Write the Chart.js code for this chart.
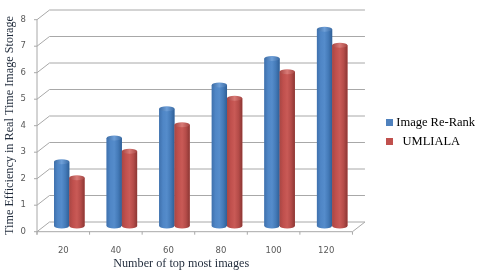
<!DOCTYPE html>
<html><head><meta charset="utf-8">
<style>html,body{margin:0;padding:0;background:#fff}#w{width:480px;height:275px}canvas{filter:blur(0.45px)}</style>
<script src="https://cdn.jsdelivr.net/npm/chart.js@4"></script></head>
<body><div id="w"><canvas id="c"></canvas></div>
<script>
const categories = ['20','40','60','80','100','120'];
const imageReRank = [2.5,3.4,4.5,5.4,6.4,7.5];
const umliala = [1.9,2.9,3.9,4.9,5.9,6.9];
const seriesNames = ['Image Re-Rank','UMLIALA'];
const legendPrefix = ['','  '];
const yMax = 8;
const titleX = 'Number of top most images';
const titleY = 'Time Efficiency in Real Time Image Storage';

const FRONT={dx:-6,dy:3.7}, BACK={dx:6.5,dy:-6};
const shades=[['#3f71ad','#4f86c6','#558ccb','#447ab8','#2f5f96'],['#a94744','#c0504d','#c95a56','#b54c49','#8c3734']];
const tops=[['#6e9fd8','#3c6ca4'],['#d97a76','#a54542']];

const scene={id:'scene',
 afterLayout(ch){
  const lg=ch.legend; lg.left=382.5; lg.right=480; lg.top-=11.5; lg.bottom-=11.5;
  const x=ch.scales.x,y=ch.scales.y;
  const dx=x.drawTitle, dy=y.drawTitle;
  x.drawTitle=function(){ch.ctx.save();ch.ctx.translate(-19.5,0);dx.apply(this,arguments);ch.ctx.restore();};
  y.drawTitle=function(){ch.ctx.save();ch.ctx.translate(0,3.5);dy.apply(this,arguments);ch.ctx.restore();};
 },
 beforeDatasetsDraw(ch){
  const g=ch.ctx,x=ch.scales.x,y=ch.scales.y,L=x.left,R=x.right;
  g.save();g.lineWidth=1;g.strokeStyle='#a8a8a8';
  const seg=(a,b,c,d)=>{g.beginPath();g.moveTo(a,b);g.lineTo(c,d);g.stroke();};
  for(let v=0;v<=yMax;v++){
   const p=y.getPixelForValue(v);
   seg(L+BACK.dx,p+BACK.dy,R+BACK.dx,p+BACK.dy);
   seg(L+FRONT.dx,p+FRONT.dy,L+BACK.dx,p+BACK.dy);
   seg(L+FRONT.dx-3,p+FRONT.dy,L+FRONT.dx,p+FRONT.dy);
  }
  const b=y.getPixelForValue(0),t=y.getPixelForValue(yMax);
  seg(L+FRONT.dx,t+FRONT.dy,L+FRONT.dx,b+FRONT.dy+3);
  seg(L+FRONT.dx,b+FRONT.dy,R+FRONT.dx,b+FRONT.dy);
  seg(R+FRONT.dx,b+FRONT.dy,R+BACK.dx,b+BACK.dy);
  const step=(R-L)/categories.length;
  for(let i=0;i<=categories.length;i++){const q=L+FRONT.dx+i*step;seg(q,b+FRONT.dy,q,b+FRONT.dy+3);}
  g.restore();
 },
 afterDatasetsDraw(ch){
  const g=ch.ctx;
  ch.data.datasets.forEach((d,di)=>{
   ch.getDatasetMeta(di).data.forEach(bar=>{
    const w=bar.width,l=bar.x-w/2,r=bar.x+w/2,ry=2.5,gr=g.createLinearGradient(l,0,r,0),base=bar.base-2;
    shades[di].forEach((c,i)=>gr.addColorStop(i/4,c));
    g.save();
    g.fillStyle='#fff';g.fillRect(l-0.5,base,w+1,2.6);
    g.fillStyle=gr;g.beginPath();
    g.moveTo(l,bar.y);g.lineTo(l,base);
    g.ellipse(bar.x,base,w/2,ry,0,Math.PI,0,true);
    g.lineTo(r,bar.y);g.closePath();g.fill();
    const tg=g.createLinearGradient(l,0,r,0);tg.addColorStop(0,tops[di][1]);tg.addColorStop(.5,tops[di][0]);tg.addColorStop(1,tops[di][1]);
    g.fillStyle=tg;g.beginPath();g.ellipse(bar.x,bar.y,w/2,ry,0,0,Math.PI*2);g.fill();
    g.restore();
   });
  });
 }};

new Chart(document.getElementById('c'),{
 type:'bar',
 data:{labels:categories,datasets:[
  {label:seriesNames[0],data:imageReRank,backgroundColor:'#4f81bd'},
  {label:seriesNames[1],data:umliala,backgroundColor:'#c0504d'}]},
 plugins:[scene],
 options:{responsive:true,maintainAspectRatio:false,animation:false,
  layout:{padding:{left:2,right:19,top:16,bottom:4}},
  datasets:{bar:{categoryPercentage:0.58,barPercentage:1}},
  plugins:{tooltip:{enabled:false},
   legend:{position:'right',align:'center',
    labels:{usePointStyle:true,boxWidth:1,boxHeight:7,padding:6.5,color:'#1f2a3a',font:{family:'"Liberation Serif"',size:12.5},
     generateLabels(ch){return ch.data.datasets.map((d,i)=>({text:legendPrefix[i]+d.label,fillStyle:d.backgroundColor,strokeStyle:d.backgroundColor,lineWidth:0,pointStyle:'rect',datasetIndex:i}));}}}},
  scales:{
   x:{grid:{display:false},border:{display:false},afterFit(s){s.height=43;},
    ticks:{color:'#595959',font:{family:'"DejaVu Sans"',size:8.5},labelOffset:-6,padding:10,maxRotation:0},
    title:{display:true,text:titleX,color:'#1f2a3a',font:{family:'"Liberation Serif"',size:12.2},padding:{top:2,bottom:0}}},
   y:{min:0,max:yMax,grid:{display:false},border:{display:false},afterFit(s){s.width=41;},
    ticks:{stepSize:1,color:'#595959',font:{family:'"DejaVu Sans"',size:8.5},labelOffset:3.7,padding:9},
    title:{display:true,text:titleY,color:'#1f2a3a',font:{family:'"Liberation Serif"',size:12.2},padding:{top:0,bottom:2}}}
  }}
});
</script></body></html>
